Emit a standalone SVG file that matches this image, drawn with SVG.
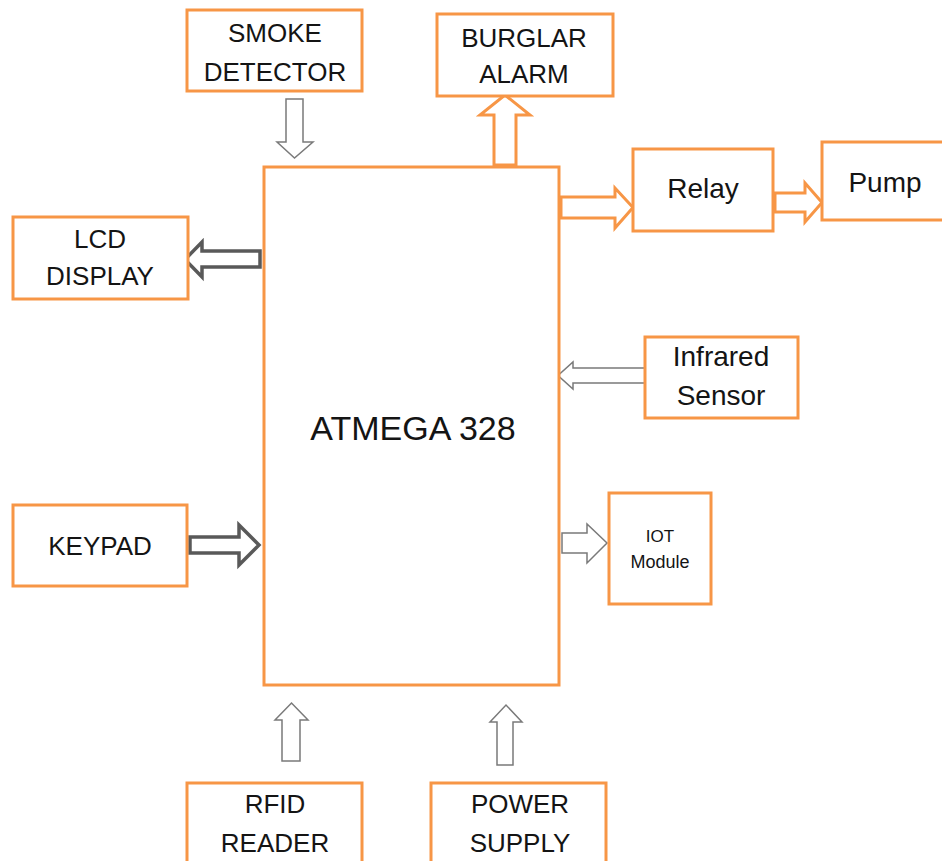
<svg xmlns="http://www.w3.org/2000/svg" width="942" height="861" viewBox="0 0 942 861">
<style>
.box{fill:#fff;stroke:#F79646;stroke-width:3}
.t{font-family:"Liberation Sans",Arial,sans-serif;fill:#141414;text-anchor:middle}
.caps{font-size:26px}
.low{font-size:28px}
.arr-o{fill:#fff;stroke:#F79646;stroke-width:3;stroke-linejoin:miter}
.arr-d{fill:#fff;stroke:#595959;stroke-width:3.5;stroke-linejoin:miter}
.arr-g{fill:#fff;stroke:#7a7a7a;stroke-width:1.5;stroke-linejoin:miter}
</style>
<rect width="942" height="861" fill="#fff"/>
<g id="connectors">
<polygon class="arr-g" points="286,99 303,99 303,142 313,142 294.5,158 277,142 286,142"/>
<polygon class="arr-o" points="494,165 494,115 480,115 505,95 530,115 516,115 516,165"/>
<polygon class="arr-o" points="561,197 615,197 615,188 633,207.5 615,228 615,218 561,218"/>
<polygon class="arr-o" points="775,193 805,193 805,183 822,202.5 805,222 805,212 775,212"/>
<polygon class="arr-d" points="260,251 202,251 202,242 185,259.5 202,277 202,267 260,267"/>
<polygon class="arr-d" points="190,537 239,537 239,525 259,545 239,565 239,553 190,553"/>
<polygon class="arr-g" points="645,368 573,368 573,362 558,375.5 573,389 573,383 645,383"/>
<polygon class="arr-g" points="562,533 587,533 587,524 607,543 587,563 587,553 562,553"/>
<polygon class="arr-g" points="282,761 282,720 275,720 291.5,703 308,720 300,720 300,761"/>
<polygon class="arr-g" points="497,765 497,722 490,722 506,705 522,722 513,722 513,765"/>
</g>
<g id="atmega">
<rect class="box" x="264" y="167" width="295" height="518"/>
<text class="t" x="413" y="440" font-size="34">ATMEGA 328</text>
</g>
<g id="smoke">
<rect class="box" x="187" y="10" width="175" height="81"/>
<text class="t caps" x="275" y="42">SMOKE</text>
<text class="t caps" x="275" y="81">DETECTOR</text>
</g>
<g id="burglar">
<rect class="box" x="437" y="14" width="176" height="82"/>
<text class="t caps" x="524" y="47">BURGLAR</text>
<text class="t caps" x="524" y="83">ALARM</text>
</g>
<g id="relay">
<rect class="box" x="633" y="149" width="140" height="82"/>
<text class="t low" x="703" y="198">Relay</text>
</g>
<g id="pump">
<rect class="box" x="822" y="142" width="130" height="78"/>
<text class="t low" x="885" y="192">Pump</text>
</g>
<g id="lcd">
<rect class="box" x="13" y="217" width="175" height="82"/>
<text class="t caps" x="100" y="248">LCD</text>
<text class="t caps" x="100" y="285">DISPLAY</text>
</g>
<g id="keypad">
<rect class="box" x="13" y="505" width="174" height="81"/>
<text class="t caps" x="100" y="555">KEYPAD</text>
</g>
<g id="infrared">
<rect class="box" x="645" y="337" width="153" height="81"/>
<text class="t low" x="721" y="366">Infrared</text>
<text class="t low" x="721" y="405">Sensor</text>
</g>
<g id="iot">
<rect class="box" x="609" y="493" width="102" height="111"/>
<text class="t" x="660" y="542" font-size="17">IOT</text>
<text class="t" x="660" y="568" font-size="18">Module</text>
</g>
<g id="rfid">
<rect class="box" x="187" y="783" width="175" height="100"/>
<text class="t caps" x="275" y="813">RFID</text>
<text class="t caps" x="275" y="852">READER</text>
</g>
<g id="power">
<rect class="box" x="431" y="783" width="175" height="100"/>
<text class="t caps" x="520" y="813">POWER</text>
<text class="t caps" x="520" y="852">SUPPLY</text>
</g>
</svg>
